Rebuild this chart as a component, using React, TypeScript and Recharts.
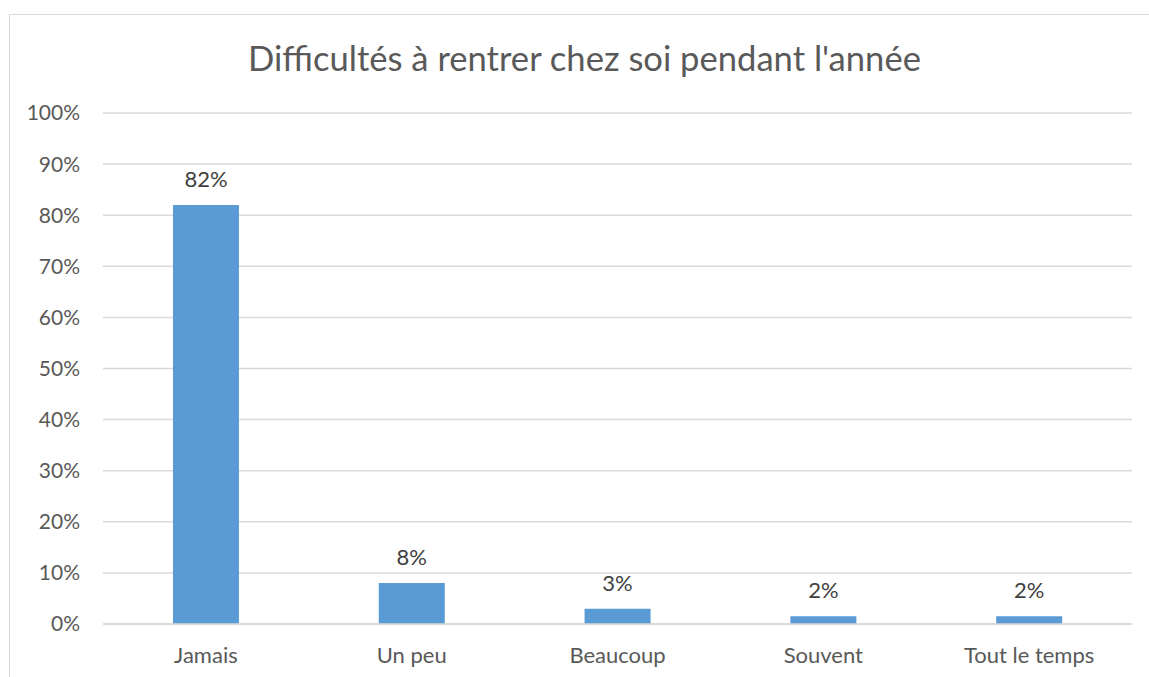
import { Bar, BarChart, CartesianGrid, LabelList, XAxis, YAxis } from "recharts";

const categories = ["Jamais", "Un peu", "Beaucoup", "Souvent", "Tout le temps"];
const shares = [82, 8, 3, 1.5, 1.5];
const yTicks = [0, 10, 20, 30, 40, 50, 60, 70, 80, 90, 100];
const title = "Difficultés à rentrer chez soi pendant l'année";

const FONT = "Lato, 'Open Sans', sans-serif";
const TEXT = "#595959";

export default function App() {
  const data = categories.map((c, i) => ({ name: c, value: shares[i] }));

  return (
    <div
      style={{
        position: "fixed",
        top: 0,
        left: 0,
        width: 1149,
        height: 677,
        overflow: "hidden",
        background: "#fff",
        fontFamily: FONT,
      }}
    >
      <div
        style={{
          position: "absolute",
          top: 14,
          left: 9,
          width: 1200,
          height: 700,
          borderTop: "1px solid #d9d9d9",
          borderLeft: "1px solid #d9d9d9",
        }}
      />
      <div
        style={{
          position: "absolute",
          top: 36,
          left: 0,
          width: 1169,
          textAlign: "center",
          fontSize: 34.6,
          lineHeight: "44px",
          color: TEXT,
        }}
      >
        {title}
      </div>
      <div style={{ position: "absolute", top: 15, left: 10 }}>
        <BarChart
          width={1139}
          height={662}
          data={data}
          margin={{ top: 98, right: 17, left: 0, bottom: 0 }}
          barCategoryGap="34%"
          style={{ fontFamily: FONT }}
        >
          <CartesianGrid vertical={false} stroke="#d9d9d9" strokeWidth={1.5} />
          <XAxis
            dataKey="name"
            height={53}
            tickLine={false}
            tickSize={0}
            tickMargin={23}
            axisLine={{ stroke: "#d9d9d9", strokeWidth: 1.5 }}
            tick={{ fill: TEXT, fontSize: 22 }}
          />
          <YAxis
            width={93}
            domain={[0, 100]}
            ticks={yTicks}
            interval={0}
            tickLine={false}
            tickSize={0}
            tickMargin={23}
            axisLine={false}
            tickFormatter={(v) => `${v}%`}
            tick={{ fill: TEXT, fontSize: 21 }}
          />
          <Bar dataKey="value" fill="#5b9bd5" isAnimationActive={false}>
            <LabelList
              dataKey="value"
              position="top"
              offset={18}
              formatter={(v: number) => `${Math.round(v)}%`}
              style={{ fill: "#404040", fontSize: 22, fontFamily: FONT }}
            />
          </Bar>
        </BarChart>
      </div>
    </div>
  );
}
